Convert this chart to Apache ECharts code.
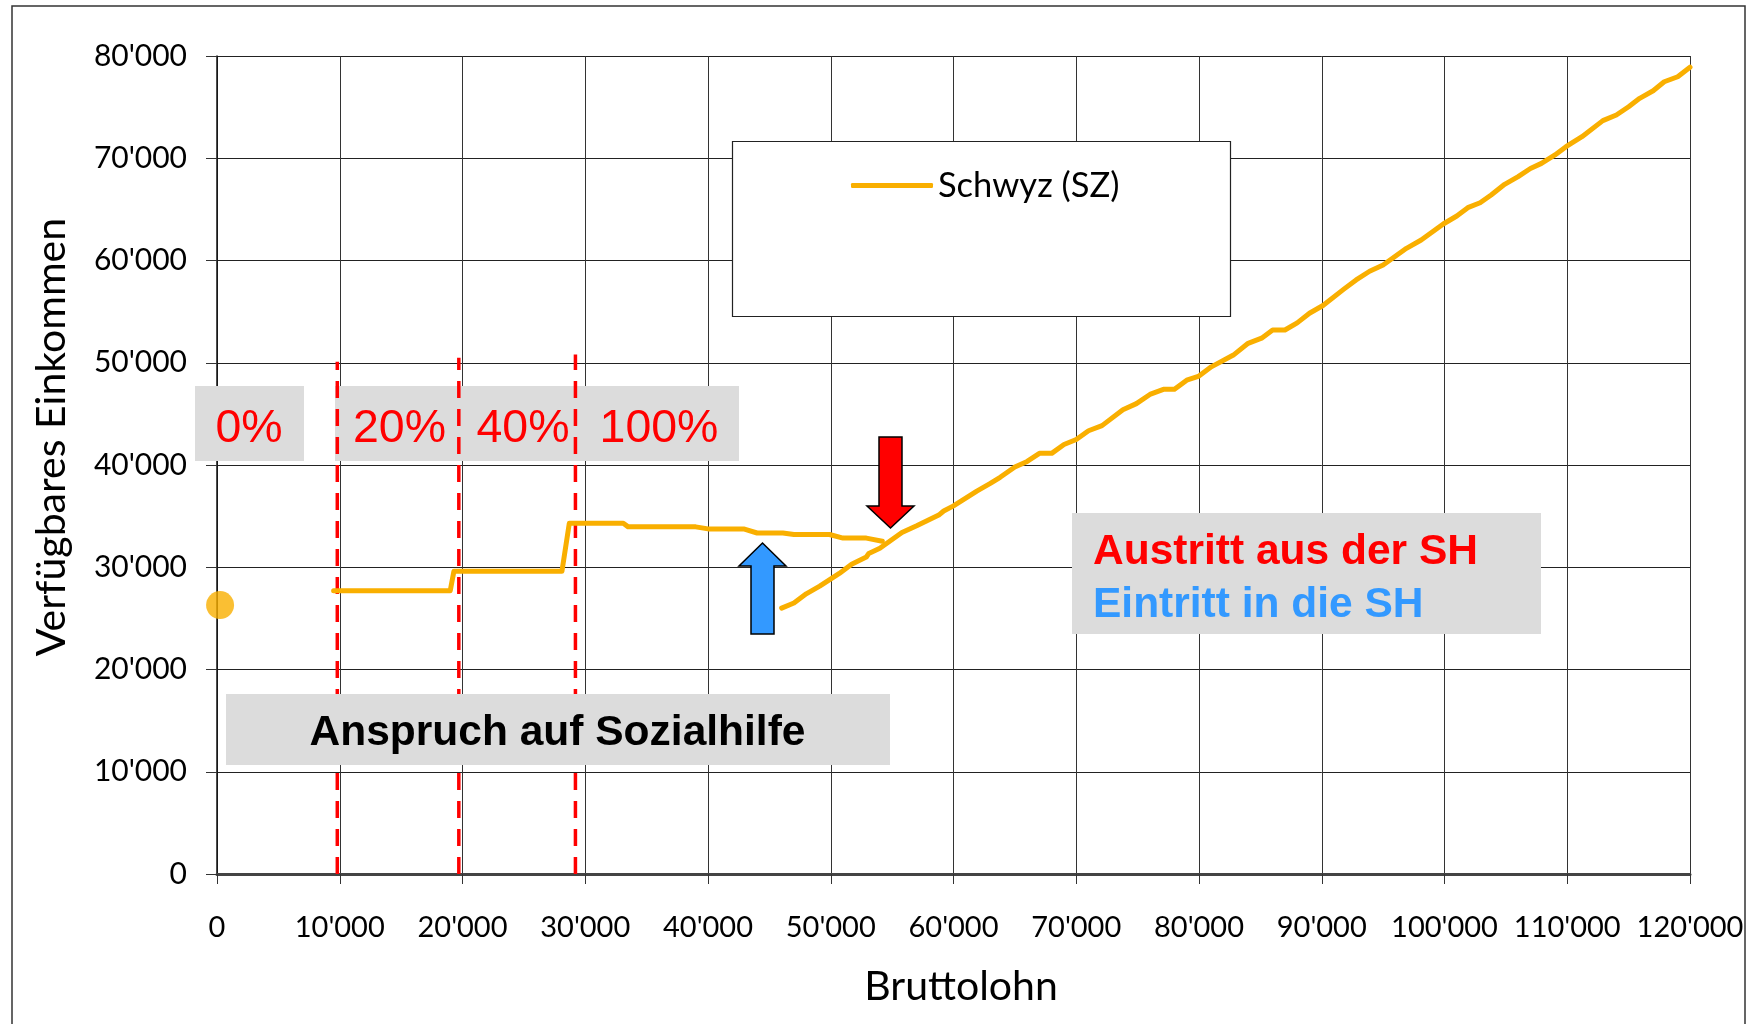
<!DOCTYPE html>
<html>
<head>
<meta charset="utf-8">
<script src="https://cdn.jsdelivr.net/npm/echarts@6/dist/echarts.min.js"></script>
<style>html,body{margin:0;padding:0;background:#fff;}#c{width:1751px;height:1024px;}</style>
</head>
<body>
<div id="c"></div>
<script>
// ---- data ----
var seriesName = 'Schwyz (SZ)';
var xTicks = [0, 10000, 20000, 30000, 40000, 50000, 60000, 70000, 80000, 90000, 100000, 110000, 120000];
var yTicks = [0, 10000, 20000, 30000, 40000, 50000, 60000, 70000, 80000];
var zeroIncomePoint = [[250, 26300]];
var withAidX = [9500, 19000, 19300, 28100, 28700, 33100, 33500, 39000, 40000, 42900, 44000, 46100, 47000, 49900, 51000, 52900, 54200];
var withAidY = [27700, 27700, 29600, 29600, 34300, 34300, 33950, 33950, 33750, 33750, 33350, 33350, 33200, 33200, 32850, 32850, 32550];
var noAidX = [46000, 47000, 48000, 49100, 50700, 51700, 52900, 53100, 54000, 55800, 57000, 58800, 59200, 60000, 61900, 63000, 63800, 65000, 66000, 67000, 68000, 69000, 70000, 71000, 72100, 73800, 74900, 76000, 77100, 78000, 79000, 80000, 81000, 82800, 84000, 85100, 86000, 87000, 88000, 89000, 90100, 91800, 92800, 93900, 95000, 96900, 98100, 99900, 101000, 101900, 102900, 103800, 104900, 106000, 107000, 107900, 109000, 109900, 111200, 112900, 114000, 115000, 115900, 117000, 117900, 119000, 120000];
var noAidY = [26000, 26500, 27400, 28150, 29400, 30300, 31000, 31350, 31850, 33400, 34050, 35100, 35500, 36000, 37450, 38200, 38800, 39800, 40350, 41140, 41140, 42000, 42500, 43350, 43850, 45400, 46000, 46900, 47400, 47400, 48300, 48700, 49600, 50750, 51900, 52400, 53200, 53200, 53900, 54840, 55600, 57200, 58100, 58950, 59560, 61190, 62000, 63570, 64350, 65170, 65650, 66410, 67450, 68200, 69000, 69500, 70320, 71130, 72110, 73680, 74230, 75040, 75860, 76600, 77480, 77970, 78900];
var boundaryX = [9800, 19700, 29200];
var boundaryTop = [50100, 50500, 50800];
var rateLabels = ['0%', '20%', '40%', '100%'];

function fmt(v) { return String(v).replace(/\B(?=(\d{3})+(?!\d))/g, "'"); }
function zip(xs, ys) { return xs.map(function (x, i) { return [x, ys[i]]; }); }

var ORANGE = '#F9AF00';
var chart = echarts.init(document.getElementById('c'), null, { renderer: 'canvas' });

var series = [
  { name: seriesName, type: 'line', data: zip(withAidX, withAidY), symbol: 'none', z: 4,
    lineStyle: { color: ORANGE, width: 5, cap: 'round', join: 'round' }, itemStyle: { color: ORANGE } },
  { name: seriesName, type: 'line', data: zip(noAidX, noAidY), symbol: 'none', z: 4,
    lineStyle: { color: ORANGE, width: 5, cap: 'round', join: 'round' }, itemStyle: { color: ORANGE } },
  { name: 'Nullpunkt', type: 'scatter', data: zeroIncomePoint, symbol: 'circle', symbolSize: 28, z: 4,
    itemStyle: { color: ORANGE } }
];
boundaryX.forEach(function (bx, i) {
  series.push({ name: 'Grenze ' + i, type: 'line', data: [[bx, 0], [bx, boundaryTop[i]]], symbol: 'none', z: 3,
    lineStyle: { color: '#FF0000', width: 3.5, type: [17, 11] } });
});

var rateX = [249, 399.5, 523, 659];
var BOLD = 'bold 42.5px "Liberation Sans", Arial, sans-serif';
var graphics = [
  { type: 'rect', shape: { x: 12, y: 6, width: 1733, height: 1040 }, style: { fill: 'none', stroke: '#333', lineWidth: 1.5 }, z: 0, silent: true },
  { type: 'rect', shape: { x: 195, y: 386, width: 109, height: 75 }, style: { fill: '#DCDCDC' }, z: 1 },
  { type: 'rect', shape: { x: 335, y: 386, width: 404, height: 75 }, style: { fill: '#DCDCDC' }, z: 1 },
  { type: 'rect', shape: { x: 226, y: 694, width: 664, height: 71 }, style: { fill: '#DCDCDC' }, z: 5 },
  { type: 'text', x: 557.5, y: 733, z: 6, style: { text: 'Anspruch auf Sozialhilfe', fill: '#000', font: BOLD, textAlign: 'center', textVerticalAlign: 'middle' } },
  { type: 'rect', shape: { x: 1072, y: 513, width: 469, height: 121 }, style: { fill: '#DCDCDC' }, z: 5 },
  { type: 'text', x: 1093, y: 552, z: 6, style: { text: 'Austritt aus der SH', fill: '#FF0000', font: BOLD, textAlign: 'left', textVerticalAlign: 'middle' } },
  { type: 'text', x: 1093, y: 605, z: 6, style: { text: 'Eintritt in die SH', fill: '#3399FF', font: BOLD, textAlign: 'left', textVerticalAlign: 'middle' } },
  { type: 'polygon', z: 7, shape: { points: [[879, 437], [902, 437], [902, 506], [914, 506], [890.5, 528], [867, 506], [879, 506]] }, style: { fill: '#FF0000', stroke: '#000', lineWidth: 1.5 } },
  { type: 'polygon', z: 7, shape: { points: [[751, 634], [774, 634], [774, 566], [786, 566], [762.5, 543], [739, 566], [751, 566]] }, style: { fill: '#3399FF', stroke: '#000', lineWidth: 1.5 } },
  { type: 'rect', shape: { x: 732.5, y: 141.5, width: 498, height: 175 }, style: { fill: '#fff', stroke: '#222', lineWidth: 1.2 }, z: 3 }
];
rateLabels.forEach(function (t, i) {
  graphics.push({ type: 'text', x: rateX[i], y: 429, z: 2, style: { text: t, fill: '#FF0000', font: '46.5px "Liberation Sans", Arial, sans-serif', textAlign: 'center', textVerticalAlign: 'middle' } });
});

var option = {
  backgroundColor: '#fff',
  animation: false,
  grid: { left: 217, right: 61, top: 56, bottom: 150, containLabel: false, outerBoundsMode: 'none' },
  legend: {
    data: [seriesName], left: 851, top: 168, padding: 0, icon: 'roundRect', itemWidth: 82, itemHeight: 5,
    textStyle: { fontFamily: 'Lato', fontSize: 34.5, color: '#000' }, z: 4, selectedMode: false
  },
  xAxis: {
    type: 'value', min: xTicks[0], max: xTicks[xTicks.length - 1], interval: xTicks[1] - xTicks[0],
    name: 'Bruttolohn', nameLocation: 'middle', nameGap: 92,
    nameTextStyle: { fontFamily: 'Lato', fontSize: 41, color: '#000', padding: [0, 0, 0, 15] },
    axisLine: { show: true, onZero: false, lineStyle: { color: '#444', width: 3 } },
    axisTick: { show: true, length: 10, lineStyle: { color: '#333', width: 1 } },
    axisLabel: { margin: 39, fontFamily: 'Lato', fontSize: 29, color: '#000', formatter: fmt },
    splitLine: { show: true, lineStyle: { color: '#333', width: 1 } }
  },
  yAxis: {
    type: 'value', min: yTicks[0], max: yTicks[yTicks.length - 1], interval: yTicks[1] - yTicks[0],
    name: 'Verfügbares Einkommen', nameLocation: 'middle', nameGap: 145, nameRotate: 90,
    nameTextStyle: { fontFamily: 'Lato', fontSize: 41, color: '#000', padding: [0, 0, 0, 56] },
    axisLine: { show: true, lineStyle: { color: '#111', width: 1.5 } },
    axisTick: { show: true, length: 11, lineStyle: { color: '#333', width: 1 } },
    axisLabel: { margin: 30, fontFamily: 'Lato', fontSize: 30, color: '#000', formatter: fmt },
    splitLine: { show: true, lineStyle: { color: '#222', width: 1 } }
  },
  graphic: graphics,
  series: series
};
chart.setOption(option);
</script>
</body>
</html>
